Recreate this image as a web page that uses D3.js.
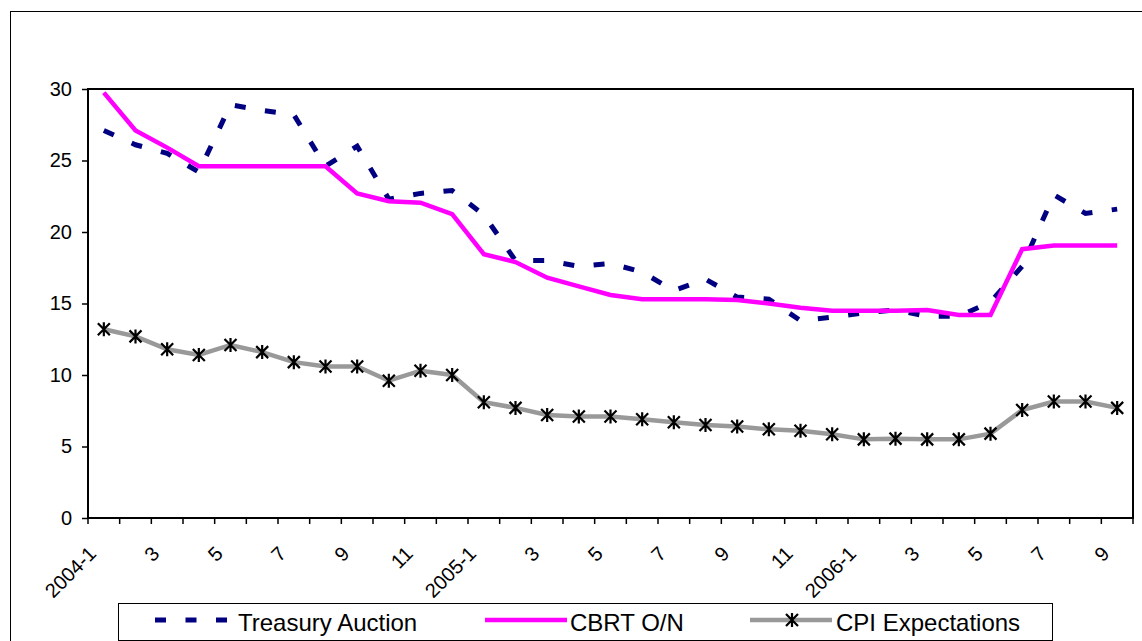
<!DOCTYPE html>
<html>
<head>
<meta charset="utf-8">
<script src="https://cdn.jsdelivr.net/npm/d3@7/dist/d3.min.js"></script>
<style>
  html, body { margin: 0; padding: 0; background: #fff; }
  svg { display: block; font-family: "Liberation Sans", Arial, sans-serif; }
</style>
</head>
<body>
<svg id="chart" width="1142" height="641"></svg>
<script>
// Monthly observations, 2004-1 .. 2006-9
const months = [
  "2004-1","2004-2","2004-3","2004-4","2004-5","2004-6","2004-7","2004-8","2004-9","2004-10","2004-11","2004-12",
  "2005-1","2005-2","2005-3","2005-4","2005-5","2005-6","2005-7","2005-8","2005-9","2005-10","2005-11","2005-12",
  "2006-1","2006-2","2006-3","2006-4","2006-5","2006-6","2006-7","2006-8","2006-9"
];
const monthLabels = [
  "2004-1","","3","","5","","7","","9","","11","",
  "2005-1","","3","","5","","7","","9","","11","",
  "2006-1","","3","","5","","7","","9"
];
const treasuryAuction = [
  27.1, 26.1, 25.5, 24.2, 28.9, 28.5, 28.2, 24.6, 26.0, 22.3, 22.7, 22.9,
  21.2, 18.0, 18.0, 17.6, 17.8, 17.2, 15.9, 16.7, 15.45, 15.3, 13.8, 14.05,
  14.35, 14.55, 14.1, 14.1, 15.1, 17.6, 22.6, 21.3, 21.6
];
const cbrtON = [
  29.75, 27.1, 25.9, 24.6, 24.6, 24.6, 24.6, 24.6, 22.7, 22.15, 22.05, 21.25,
  18.45, 17.9, 16.8, 16.2, 15.6, 15.3, 15.3, 15.3, 15.25, 15.0, 14.7, 14.5,
  14.5, 14.5, 14.55, 14.2, 14.2, 18.8, 19.05, 19.05, 19.05
];
const cpiExpectations = [
  13.2, 12.7, 11.8, 11.4, 12.1, 11.6, 10.9, 10.6, 10.6, 9.6, 10.3, 10.0,
  8.1, 7.7, 7.2, 7.1, 7.1, 6.9, 6.7, 6.5, 6.4, 6.2, 6.1, 5.85,
  5.5, 5.55, 5.5, 5.5, 5.9, 7.55, 8.15, 8.15, 7.7
];
const yTicks = [0, 5, 10, 15, 20, 25, 30];
const seriesNames = ["Treasury Auction", "CBRT O/N", "CPI Expectations"];

const svg = d3.select("#chart");
const plot = { left: 88, right: 1133, top: 89, bottom: 518 };

const x = d3.scaleBand().domain(months).range([plot.left, plot.right]).padding(0);
const y = d3.scaleLinear().domain([0, 30]).range([plot.bottom, plot.top]);
const cx = m => x(m) + x.bandwidth() / 2;

// Outer chart frame
svg.append("rect")
  .attr("x", 10.5).attr("y", 11.5)
  .attr("width", 1140).attr("height", 640)
  .attr("fill", "#fff").attr("stroke", "#000").attr("stroke-width", 1);

// Plot area frame
svg.append("rect")
  .attr("x", plot.left).attr("y", plot.top)
  .attr("width", plot.right - plot.left).attr("height", plot.bottom - plot.top)
  .attr("fill", "#fff").attr("stroke", "#000").attr("stroke-width", 2);

// Y axis
const yAxis = svg.append("g")
  .attr("transform", `translate(${plot.left},0)`)
  .call(d3.axisLeft(y).tickValues(yTicks).tickSize(6).tickPadding(10));
yAxis.select(".domain").remove();
yAxis.selectAll(".tick line").attr("stroke", "#000").attr("stroke-width", 1.5);
yAxis.selectAll(".tick text")
  .attr("font-size", 20).attr("fill", "#000")
  .attr("font-family", "Liberation Sans, Arial, sans-serif");

// X axis tick marks at category boundaries
const boundaries = months.map(m => x(m)).concat([plot.right]);
svg.append("g").selectAll("line")
  .data(boundaries).join("line")
  .attr("x1", d => d).attr("x2", d => d)
  .attr("y1", plot.bottom).attr("y2", plot.bottom + 6)
  .attr("stroke", "#000").attr("stroke-width", 1.5);

// X labels, rotated
svg.append("g").selectAll("text")
  .data(months.map((m, i) => ({ m, label: monthLabels[i] })).filter(d => d.label !== ""))
  .join("text")
  .attr("transform", d => `translate(${cx(d.m) - 6.5},555) rotate(-45)`)
  .attr("text-anchor", "end")
  .attr("font-size", 20)
  .attr("fill", "#000")
  .text(d => d.label);

const line = d3.line().x((d, i) => cx(months[i])).y(d => y(d));

// Treasury Auction – navy dashed
svg.append("path")
  .datum(treasuryAuction)
  .attr("d", line)
  .attr("fill", "none")
  .attr("stroke", "#000080")
  .attr("stroke-width", 5)
  .attr("stroke-dasharray", "11,19.5");

// CBRT O/N – magenta solid
svg.append("path")
  .datum(cbrtON)
  .attr("d", line)
  .attr("fill", "none")
  .attr("stroke", "#ff00ff")
  .attr("stroke-width", 4.5)
  .attr("stroke-linejoin", "miter");

// CPI Expectations – gray with star markers
svg.append("path")
  .datum(cpiExpectations)
  .attr("d", line)
  .attr("fill", "none")
  .attr("stroke", "#999999")
  .attr("stroke-width", 4.5);

const starPath = "M-6,-6L6,6M-6,6L6,-6M0,-7L0,7";
svg.append("g").selectAll("path")
  .data(cpiExpectations).join("path")
  .attr("transform", (d, i) => `translate(${cx(months[i])},${y(d)})`)
  .attr("d", starPath)
  .attr("fill", "none")
  .attr("stroke", "#000")
  .attr("stroke-width", 2.2);

// Legend
const legend = svg.append("g");
legend.append("rect")
  .attr("x", 118.5).attr("y", 603.5)
  .attr("width", 934).attr("height", 37)
  .attr("fill", "#fff").attr("stroke", "#000").attr("stroke-width", 1);

const ly = 620;
legend.append("line")
  .attr("x1", 155).attr("x2", 227).attr("y1", ly).attr("y2", ly)
  .attr("stroke", "#000080").attr("stroke-width", 5)
  .attr("stroke-dasharray", "11,19.5");
legend.append("line")
  .attr("x1", 485).attr("x2", 567).attr("y1", ly).attr("y2", ly)
  .attr("stroke", "#ff00ff").attr("stroke-width", 4.5);
legend.append("line")
  .attr("x1", 750).attr("x2", 832).attr("y1", ly).attr("y2", ly)
  .attr("stroke", "#999999").attr("stroke-width", 4.5);
legend.append("path")
  .attr("transform", `translate(792,${ly})`)
  .attr("d", starPath)
  .attr("fill", "none").attr("stroke", "#000").attr("stroke-width", 2.2);

const legendX = [238, 570, 836];
legend.selectAll("text.lbl")
  .data(seriesNames).join("text")
  .attr("class", "lbl")
  .attr("x", (d, i) => legendX[i])
  .attr("y", 631)
  .attr("font-size", 24)
  .attr("fill", "#000")
  .text(d => d);
</script>
</body>
</html>
